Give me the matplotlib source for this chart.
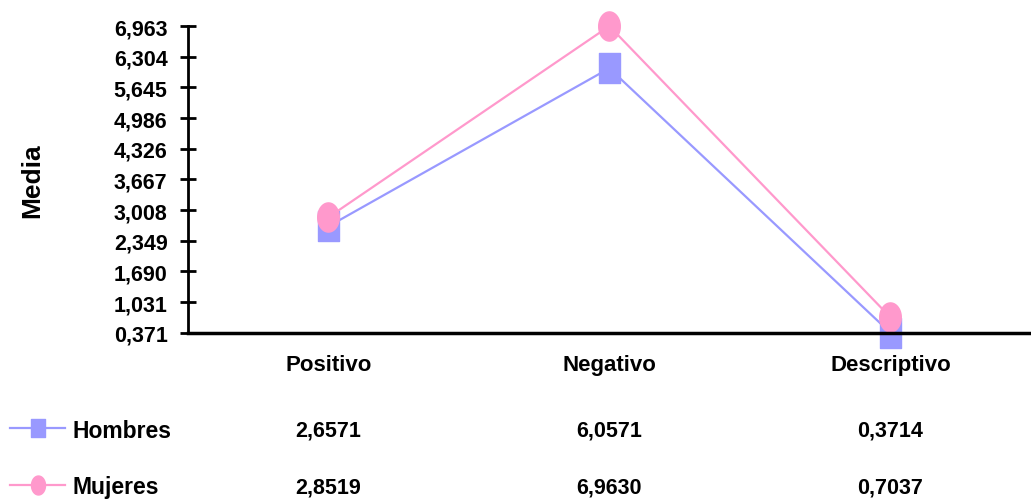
import matplotlib
matplotlib.use("Agg")
import matplotlib.pyplot as plt
from matplotlib import font_manager
from matplotlib.path import Path
from matplotlib.transforms import blended_transform_factory
import numpy as np

categories = ["Positivo", "Negativo", "Descriptivo"]
series_names = ["Hombres", "Mujeres"]
hombres = [2.6571, 6.0571, 0.3714]
mujeres = [2.8519, 6.9630, 0.7037]
yticks = [0.371, 1.031, 1.690, 2.349, 3.008, 3.667, 4.326, 4.986, 5.645, 6.304, 6.963]

colors = ["#9999FF", "#FF99CC"]

installed = {f.name for f in font_manager.fontManager.ttflist}
if "Liberation Sans Narrow" in installed:
    main_font = "Liberation Sans Narrow"
    sz = 18
else:
    main_font = "Liberation Sans"
    sz = 15.5
fam = [main_font, "DejaVu Sans"]
plt.rcParams["font.family"] = fam

# tall markers (the original chart is squeezed horizontally)
sq = Path([(-0.72, -1), (0.72, -1), (0.72, 1), (-0.72, 1), (-0.72, -1)],
          [Path.MOVETO, Path.LINETO, Path.LINETO, Path.LINETO, Path.CLOSEPOLY])
t = np.linspace(0, 2 * np.pi, 60)
ell = Path(np.column_stack([0.74 * np.cos(t), np.sin(t)]))
markers = [sq, ell]

fig = plt.figure(figsize=(10.31, 5.02), dpi=100)
ax = fig.add_axes([0.182, 0.335, 0.818, 0.611])

x = np.arange(len(categories))
for vals, c, m, name in zip([hombres, mujeres], colors, markers, series_names):
    ax.plot(x, vals, color=c, lw=1.6, marker=m, markersize=21,
            markerfacecolor=c, markeredgecolor=c, clip_on=False, label=name)

ax.set_xlim(-0.5, 2.5)
ax.set_ylim(yticks[0], yticks[-1])
ax.set_yticks(yticks)
ax.set_yticklabels([f"{v:.3f}".replace(".", ",") for v in yticks],
                   fontsize=sz, fontweight="bold")
ax.set_xticks(x)
ax.set_xticklabels(categories, fontsize=sz + 0.5, fontweight="bold")
ax.tick_params(axis="x", length=0, pad=15)
ax.tick_params(axis="y", direction="inout", length=11, width=2, pad=9)

for s in ["top", "right"]:
    ax.spines[s].set_visible(False)
ax.spines["left"].set_linewidth(2)
ax.spines["bottom"].set_linewidth(2.5)

ax.set_ylabel("Media", fontsize=19, fontweight="bold", family="Liberation Sans",
              labelpad=50)

# data table under the chart
tr = blended_transform_factory(ax.transData, fig.transFigure)
row_y = [1 - 431 / 502, 1 - 488 / 502]
for vals, yy in zip([hombres, mujeres], row_y):
    for xi, v in zip(x, vals):
        ax.text(xi, yy, f"{v:.4f}".replace(".", ","), transform=tr,
                ha="center", va="center", fontsize=sz, fontweight="bold")

for line, yy in zip(ax.get_lines(), row_y):
    fig.legend(handles=[line], loc="center left", bbox_to_anchor=(-0.01, yy),
               frameon=False, handlelength=2.4, handletextpad=0.3,
               markerscale=0.65, prop={"size": sz + 1, "weight": "bold", "family": fam})

fig.savefig("out.png", dpi=100)
